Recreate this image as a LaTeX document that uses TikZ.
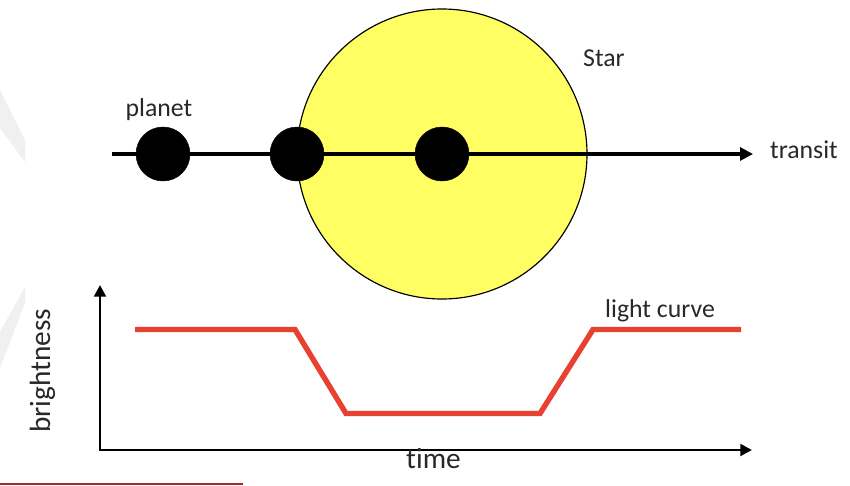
\documentclass[tikz,border=0pt]{standalone}
\usepackage{fontspec}
\setmainfont{Carlito}[Ligatures={NoCommon,NoRequired,NoContextual}]
\usetikzlibrary{arrows.meta,positioning}
\definecolor{staryellow}{RGB}{255,255,100}
\definecolor{curvered}{RGB}{232,65,50}
\definecolor{textgray}{RGB}{40,40,40}
\definecolor{underred}{RGB}{180,35,35}

\begin{document}
\begin{tikzpicture}[x=0.3mm,y=-0.3mm,
every node/.style={circle,draw,inner sep=0pt},
planet/.style={fill=black,minimum size=16.2mm},
lbl/.style={draw=none,rectangle,text=textgray,font=\fontsize{22}{26}\selectfont},
axlbl/.style={draw=none,rectangle,text=textgray,font=\fontsize{25}{30}\selectfont}]
\useasboundingbox (0,0) rectangle (850,485);
\fill[gray!12] (0,90) -- (25,140) -- (25,162) -- (0,128) -- cycle;
\fill[gray!12] (25,287) -- (25,303) -- (0,368) -- (0,332) -- cycle;

\node[fill=staryellow,line width=1pt,minimum size=87mm] (S) at (442,154) {};
\coordinate (T0) at (112,154);
\coordinate (T1) at (753,154);
\draw[line width=2.6pt,-{Triangle[length=11pt,width=11pt]}] (T0)--(T1);
\node[planet] (P1) at (163,154) {};
\node[planet] (P2) at (297,154) {};
\node[planet] (P3) at (442,154) {};

\node[lbl,anchor=base] (LP) at (159,116) {planet};
\node[lbl,anchor=base west] (LS) at (583,66) {Star};
\node[lbl,anchor=base west] (LT) at (770,158) {transit};

\coordinate (O) at (100,450);
\coordinate (Y) at (100,285);
\coordinate (X) at (752,450);
\draw[line width=2.4pt,{Triangle[length=10pt,width=10pt]}-{Triangle[length=10pt,width=10pt]}] (Y)--(O)--(X);

\coordinate (C1) at (135,329.5);
\coordinate (C2) at (295,329.5);
\coordinate (C3) at (346,413.5);
\coordinate (C4) at (540,413.5);
\coordinate (C5) at (593,329.5);
\coordinate (C6) at (741,329.5);
\draw[curvered,line width=4.6pt] (C1)--(C2)--(C3)--(C4)--(C5)--(C6);

\node[lbl,anchor=base west] (LC) at (605,317) {light curve};
\node[axlbl,anchor=base west] (LX) at (406,468) {time};
\node[axlbl,anchor=base,rotate=90] (LY) at (50,371) {brightness};

\draw[underred,line width=1.6pt] (0,484)--(243,484);
\end{tikzpicture}
\end{document}
